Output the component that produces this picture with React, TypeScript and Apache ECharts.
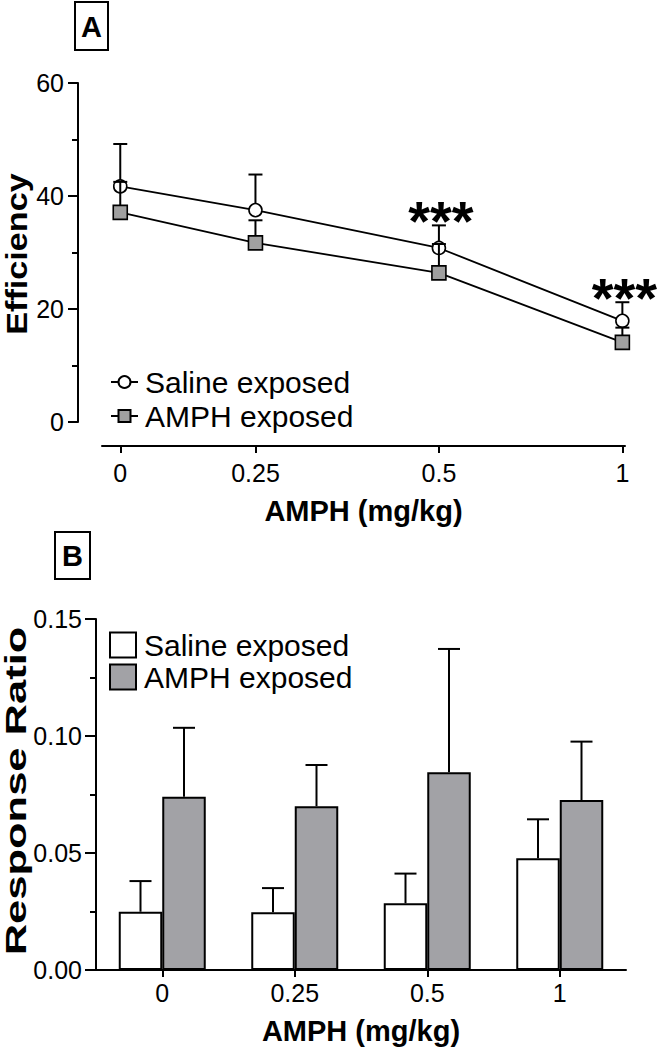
import React, { useEffect, useRef } from 'react';
import * as echarts from 'echarts';

// ---------- data ----------
const doses = ['0', '0.25', '0.5', '1'];
const doseValues = [0, 0.25, 0.5, 1];
const zeroDoseLogPlot = 0.15; // where dose 0 sits on the log dose axis (Prism style)
const axisDoseMin = 0.14;
const axisDoseMax = 1.01;

const seriesNames = ['Saline exposed', 'AMPH exposed'];

const efficiencySaline = [41.7, 37.5, 30.8, 17.9];
const efficiencySalineSem = [7.5, 6.3, 4.0, 3.3];
const efficiencyAmph = [37.1, 31.7, 26.4, 14.1];
const efficiencyAmphSem = [5.4, 4.0, 5.1, 2.6];
const efficiencySig = ['', '', '***', '***'];

const ratioSaline = [0.0249, 0.0247, 0.0285, 0.0478];
const ratioSalineSem = [0.0131, 0.0103, 0.0127, 0.0166];
const ratioAmph = [0.074, 0.07, 0.0845, 0.0726];
const ratioAmphSem = [0.0295, 0.0176, 0.0527, 0.025];

// ---------- styling ----------
const FONT = '"Liberation Sans", Arial, Helvetica, sans-serif';
const BLACK = '#000';
const GRAY = '#a2a2a6';
const BAR_W = 43.5;
const TICK_FS = 25;
const LEGEND_FS = 30;

const logDose = (d: number) => Math.log2(d === 0 ? zeroDoseLogPlot : d);
const dosePositions = doseValues.map(logDose);

function optionA(): any {
  const errItem = (sig: string[] | null, capHalf: number) =>
    (params: any, api: any) => {
      const x = api.value(0);
      const y = api.value(1);
      const s = api.value(2);
      const base = api.coord([x, y]);
      const top = api.coord([x, y + s]);
      const children: any[] = [
        { type: 'line', shape: { x1: base[0], y1: base[1], x2: top[0], y2: top[1] }, style: { stroke: BLACK, lineWidth: 2 } },
        { type: 'line', shape: { x1: top[0] - capHalf, y1: top[1], x2: top[0] + capHalf, y2: top[1] }, style: { stroke: BLACK, lineWidth: 2 } },
      ];
      if (sig && sig[params.dataIndex]) {
        children.push({
          type: 'text',
          x: top[0] + 2,
          y: top[1] - 5,
          style: {
            text: sig[params.dataIndex],
            fontSize: 56,
            fontWeight: 'bold',
            fontFamily: FONT,
            fill: BLACK,
            align: 'center',
            verticalAlign: 'middle',
            textAlign: 'center',
            textVerticalAlign: 'middle',
          },
        });
      }
      return { type: 'group', children };
    };

  return {
    animation: false,
    backgroundColor: '#fff',
    textStyle: { fontFamily: FONT, color: BLACK },
    grid: { left: 102, right: 33, top: 83, bottom: 107, containLabel: false },
    legend: {
      data: seriesNames,
      orient: 'vertical',
      left: 105,
      top: 362,
      itemWidth: 27,
      itemHeight: 15,
      itemGap: 4,
      textStyle: { fontSize: LEGEND_FS, color: BLACK, fontFamily: FONT, padding: [0, 0, 0, 2] },
      selectedMode: false,
    },
    xAxis: {
      type: 'value',
      min: Math.log2(axisDoseMin),
      max: Math.log2(axisDoseMax),
      offset: 24,
      axisLine: { show: true, onZero: false, lineStyle: { color: BLACK, width: 2 } },
      axisTick: { show: true, length: 7, customValues: dosePositions, lineStyle: { color: BLACK, width: 2 } },
      axisLabel: {
        customValues: dosePositions,
        fontSize: TICK_FS,
        color: BLACK,
        fontFamily: FONT,
        margin: 14,
        formatter: (v: number) => {
          let best = 0;
          dosePositions.forEach((p, i) => { if (Math.abs(p - v) < Math.abs(dosePositions[best] - v)) best = i; });
          return doses[best];
        },
      },
      splitLine: { show: false },
      name: 'AMPH (mg/kg)',
      nameLocation: 'middle',
      nameGap: 50,
      nameTextStyle: { fontSize: 29, fontWeight: 'bold', color: BLACK, fontFamily: FONT },
    },
    yAxis: {
      type: 'value',
      min: 0,
      max: 60,
      interval: 20,
      offset: 24,
      axisLine: { show: true, onZero: false, lineStyle: { color: BLACK, width: 2 } },
      axisTick: { show: true, length: 10, lineStyle: { color: BLACK, width: 2 } },
      minorTick: { show: true, splitNumber: 2, length: 6, lineStyle: { color: BLACK, width: 2 } },
      axisLabel: { fontSize: TICK_FS, color: BLACK, fontFamily: FONT, margin: 14 },
      splitLine: { show: false },
      minorSplitLine: { show: false },
    },
    graphic: [
      { type: 'rect', shape: { x: 75, y: 2, width: 33, height: 48 }, style: { fill: '#fff', stroke: BLACK, lineWidth: 2 } },
      { type: 'text', x: 91.5, y: 27, style: { text: 'A', font: `bold 29px ${FONT}`, fill: BLACK, textAlign: 'center', textVerticalAlign: 'middle' } },
      { type: 'text', x: 17, y: 254, rotation: Math.PI / 2, scaleX: 1.14, style: { text: 'Efficiency', font: `bold 30px ${FONT}`, fill: BLACK, textAlign: 'center', textVerticalAlign: 'middle' } },
    ],
    series: [
      {
        type: 'custom',
        name: 'salineErr',
        renderItem: errItem(efficiencySig, 7),
        encode: { x: 0, y: 1 },
        data: efficiencySaline.map((v, i) => [dosePositions[i], v, efficiencySalineSem[i]]),
        z: 2,
      },
      {
        type: 'line',
        name: seriesNames[0],
        data: efficiencySaline.map((v, i) => [dosePositions[i], v]),
        symbol: 'circle',
        symbolSize: 13,
        itemStyle: { color: '#fff', borderColor: BLACK, borderWidth: 1.6 },
        lineStyle: { color: BLACK, width: 1.8 },
        z: 3,
      },
      {
        type: 'custom',
        name: 'amphErr',
        renderItem: errItem(null, 7),
        encode: { x: 0, y: 1 },
        data: efficiencyAmph.map((v, i) => [dosePositions[i], v, efficiencyAmphSem[i]]),
        z: 4,
      },
      {
        type: 'line',
        name: seriesNames[1],
        data: efficiencyAmph.map((v, i) => [dosePositions[i], v]),
        symbol: 'rect',
        symbolSize: 14,
        itemStyle: { color: '#a0a0a0', borderColor: BLACK, borderWidth: 1.6 },
        lineStyle: { color: BLACK, width: 1.8 },
        z: 5,
      },
    ],
  };
}

function optionB(): any {
  const errItem = (side: number) => (params: any, api: any) => {
    const i = api.value(0);
    const y = api.value(1);
    const s = api.value(2);
    const base = api.coord([i, y]);
    const top = api.coord([i, y + s]);
    const cx = base[0] + side * BAR_W / 2;
    return {
      type: 'group',
      children: [
        { type: 'line', shape: { x1: cx, y1: base[1], x2: cx, y2: top[1] }, style: { stroke: BLACK, lineWidth: 2 } },
        { type: 'line', shape: { x1: cx - 11, y1: top[1], x2: cx + 11, y2: top[1] }, style: { stroke: BLACK, lineWidth: 2 } },
      ],
    };
  };

  return {
    animation: false,
    backgroundColor: '#fff',
    textStyle: { fontFamily: FONT, color: BLACK },
    grid: { left: 96, right: 32, top: 89, bottom: 78, containLabel: false },
    legend: {
      data: seriesNames,
      orient: 'vertical',
      left: 104,
      top: 95,
      icon: 'rect',
      itemWidth: 26,
      itemHeight: 25,
      itemGap: 2,
      textStyle: { fontSize: LEGEND_FS, color: BLACK, fontFamily: FONT, padding: [0, 0, 0, 3] },
      selectedMode: false,
    },
    xAxis: {
      type: 'category',
      data: doses,
      boundaryGap: true,
      axisLine: { show: true, onZero: false, lineStyle: { color: BLACK, width: 2 } },
      axisTick: { show: true, alignWithLabel: true, length: 7, lineStyle: { color: BLACK, width: 2 } },
      axisLabel: { fontSize: TICK_FS, color: BLACK, fontFamily: FONT, margin: 10 },
      name: 'AMPH (mg/kg)',
      nameLocation: 'middle',
      nameGap: 46,
      nameTextStyle: { fontSize: 29, fontWeight: 'bold', color: BLACK, fontFamily: FONT },
    },
    yAxis: {
      type: 'value',
      min: 0,
      max: 0.15,
      interval: 0.05,
      axisLine: { show: true, onZero: false, lineStyle: { color: BLACK, width: 2 } },
      axisTick: { show: true, length: 11, lineStyle: { color: BLACK, width: 2 } },
      minorTick: { show: true, splitNumber: 2, length: 6, lineStyle: { color: BLACK, width: 2 } },
      axisLabel: { fontSize: TICK_FS, color: BLACK, fontFamily: FONT, margin: 14, formatter: (v: number) => v.toFixed(2) },
      splitLine: { show: false },
      minorSplitLine: { show: false },
    },
    graphic: [
      { type: 'rect', shape: { x: 55, y: 2, width: 35, height: 47 }, style: { fill: '#fff', stroke: BLACK, lineWidth: 2 } },
      { type: 'text', x: 72.5, y: 26, style: { text: 'B', font: `bold 29px ${FONT}`, fill: BLACK, textAlign: 'center', textVerticalAlign: 'middle' } },
      { type: 'text', x: 16, y: 261, rotation: Math.PI / 2, scaleX: 1.5, style: { text: 'Response Ratio', font: `bold 29px ${FONT}`, fill: BLACK, textAlign: 'center', textVerticalAlign: 'middle' } },
    ],
    series: [
      {
        type: 'bar',
        name: seriesNames[0],
        data: ratioSaline,
        barWidth: BAR_W,
        barGap: '0%',
        itemStyle: { color: '#fff', borderColor: BLACK, borderWidth: 2 },
        z: 2,
      },
      {
        type: 'bar',
        name: seriesNames[1],
        data: ratioAmph,
        barWidth: BAR_W,
        barGap: '0%',
        itemStyle: { color: GRAY, borderColor: BLACK, borderWidth: 2 },
        z: 2,
      },
      {
        type: 'custom',
        name: 'salineErr',
        renderItem: errItem(-1),
        encode: { x: 0, y: 1 },
        data: ratioSaline.map((v, i) => [i, v, ratioSalineSem[i]]),
        z: 3,
      },
      {
        type: 'custom',
        name: 'amphErr',
        renderItem: errItem(1),
        encode: { x: 0, y: 1 },
        data: ratioAmph.map((v, i) => [i, v, ratioAmphSem[i]]),
        z: 3,
      },
    ],
  };
}

function Chart({ option, width, height }: { option: () => any; width: number; height: number }) {
  const ref = useRef<HTMLDivElement>(null);
  useEffect(() => {
    if (!ref.current) return;
    const chart = echarts.init(ref.current, null, { renderer: 'svg', width, height });
    chart.setOption(option());
    return () => chart.dispose();
  }, []);
  return <div ref={ref} style={{ width, height }} />;
}

export default function App() {
  return (
    <div style={{ position: 'absolute', left: 0, top: 0, width: 658, height: 1050, background: '#fff' }}>
      <Chart option={optionA} width={658} height={530} />
      <Chart option={optionB} width={658} height={520} />
    </div>
  );
}
